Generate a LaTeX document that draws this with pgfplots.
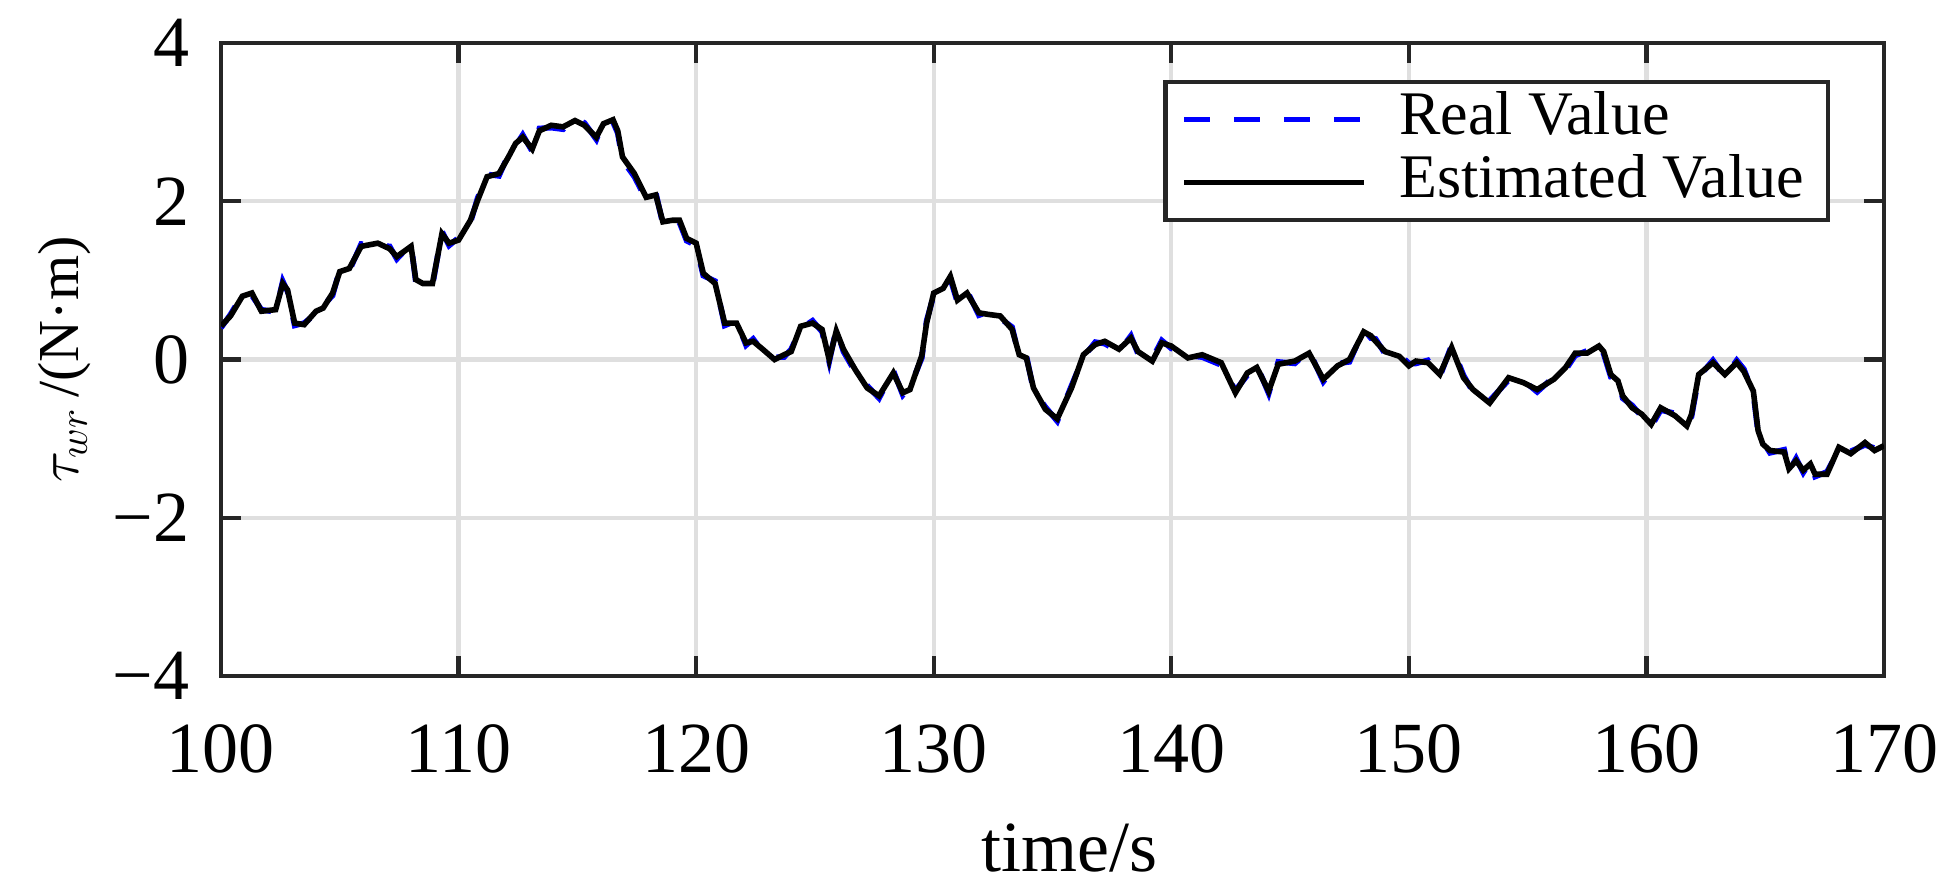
\documentclass[border=0pt]{standalone}
\usepackage{fontspec}
\setmainfont{Liberation Serif}
\usepackage{pgfplots}
\usepackage{pgfplotstable}
\pgfplotsset{compat=1.18}
\definecolor{axgray}{RGB}{38,38,38}
\definecolor{gridgray}{RGB}{223,223,223}
\pgfplotstableread{
t est real
100.0 0.42 0.40
100.4 0.55 0.57
100.9 0.80 0.82
101.3 0.84 0.81
101.7 0.61 0.63
102.3 0.63 0.60
102.6 0.96 0.99
102.8 0.88 0.86
103.1 0.46 0.43
103.5 0.44 0.46
104.0 0.61 0.58
104.3 0.65 0.68
104.7 0.84 0.81
105.0 1.11 1.14
105.4 1.15 1.12
105.9 1.43 1.46
106.6 1.47 1.44
107.1 1.40 1.43
107.4 1.30 1.27
108.0 1.43 1.46
108.2 1.01 0.98
108.5 0.96 0.99
108.9 0.96 0.93
109.3 1.59 1.62
109.6 1.47 1.44
110.0 1.51 1.54
110.5 1.76 1.73
110.8 2.01 2.04
111.2 2.31 2.34
111.7 2.35 2.32
112.1 2.56 2.59
112.4 2.73 2.70
112.7 2.81 2.84
113.1 2.66 2.63
113.4 2.89 2.92
113.9 2.96 2.93
114.4 2.94 2.91
114.9 3.02 3.05
115.3 2.96 2.99
115.8 2.81 2.78
116.1 2.98 3.01
116.5 3.03 3.00
116.7 2.89 2.86
116.9 2.56 2.52
117.4 2.35 2.31
117.9 2.05 2.02
118.3 2.08 2.11
118.6 1.74 1.71
119.0 1.76 1.79
119.3 1.76 1.73
119.6 1.53 1.50
120.0 1.47 1.44
120.3 1.09 1.06
120.8 0.96 0.99
121.2 0.46 0.43
121.7 0.46 0.49
122.1 0.21 0.18
122.4 0.23 0.26
122.8 0.13 0.10
123.3 0.00 0.03
123.7 0.06 0.03
124.0 0.10 0.13
124.4 0.42 0.39
124.9 0.46 0.49
125.3 0.38 0.35
125.6 0.00 -0.03
125.9 0.36 0.39
126.2 0.13 0.10
126.7 -0.13 -0.16
127.2 -0.36 -0.33
127.7 -0.46 -0.49
128.3 -0.17 -0.14
128.7 -0.42 -0.45
129.0 -0.38 -0.35
129.5 0.05 0.02
129.7 0.46 0.49
130.0 0.84 0.81
130.4 0.90 0.93
130.7 1.05 1.02
131.0 0.75 0.72
131.4 0.84 0.87
131.9 0.59 0.56
132.3 0.57 0.60
132.8 0.55 0.52
133.3 0.38 0.41
133.6 0.06 0.03
133.9 0.02 0.05
134.2 -0.36 -0.39
134.7 -0.63 -0.60
135.2 -0.75 -0.78
135.8 -0.36 -0.33
136.3 0.06 0.03
136.8 0.19 0.22
137.2 0.23 0.20
137.8 0.13 0.10
138.3 0.27 0.30
138.6 0.10 0.07
139.2 -0.02 0.01
139.6 0.21 0.24
140.0 0.17 0.14
140.7 0.02 0.05
141.3 0.06 0.03
142.1 -0.04 -0.07
142.7 -0.42 -0.39
143.2 -0.17 -0.20
143.6 -0.10 -0.07
144.1 -0.40 -0.43
144.5 -0.06 -0.03
145.2 -0.02 -0.05
145.8 0.08 0.11
146.4 -0.25 -0.28
147.0 -0.08 -0.05
147.5 0.00 -0.03
148.1 0.35 0.38
148.4 0.30 0.27
148.6 0.23 0.26
149.0 0.10 0.07
149.6 0.04 0.07
150.0 -0.08 -0.05
150.3 -0.02 -0.05
150.8 -0.04 -0.01
151.3 -0.19 -0.22
151.8 0.15 0.18
152.3 -0.23 -0.20
152.7 -0.38 -0.41
153.4 -0.55 -0.52
154.2 -0.23 -0.26
154.8 -0.29 -0.26
155.4 -0.38 -0.41
156.1 -0.25 -0.22
156.6 -0.10 -0.13
157.0 0.08 0.05
157.5 0.08 0.11
158.0 0.17 0.20
158.2 0.10 0.07
158.5 -0.19 -0.22
158.8 -0.27 -0.24
159.0 -0.46 -0.49
159.4 -0.61 -0.58
159.8 -0.69 -0.72
160.2 -0.82 -0.85
160.6 -0.61 -0.64
161.2 -0.71 -0.68
161.7 -0.84 -0.81
161.9 -0.69 -0.72
162.2 -0.19 -0.22
162.8 -0.04 -0.01
163.3 -0.19 -0.22
163.8 -0.04 -0.01
164.1 -0.15 -0.12
164.5 -0.40 -0.43
164.7 -0.90 -0.93
164.9 -1.07 -1.04
165.2 -1.15 -1.18
165.8 -1.17 -1.14
166.0 -1.38 -1.41
166.3 -1.28 -1.25
166.6 -1.40 -1.43
166.9 -1.32 -1.29
167.1 -1.45 -1.48
167.6 -1.45 -1.42
168.1 -1.11 -1.14
168.6 -1.19 -1.16
169.2 -1.05 -1.08
169.6 -1.15 -1.12
170.0 -1.09 -1.12
}\datatable
\begin{document}
\begin{tikzpicture}
\begin{axis}[
  name=ax,
  scale only axis,
  width=415.75pt, height=158.25pt,
  xmin=100, xmax=170, ymin=-4, ymax=4,
  xtick={100,110,...,170},
  ytick={-4,-2,0,2,4},
  yticklabels={−4,−2,0,2,4},
  /pgf/number format/assume math mode=true,
  /pgf/number format/1000 sep={},
  tick align=inside,
  major tick length=5pt,
  every tick/.style={axgray, line width=1.1pt},
  axis line style={axgray, line width=1.2pt},
  grid=major,
  major grid style={gridgray, line width=1.1pt},
  ticklabel style={font=\fontsize{18}{20}\selectfont, inner sep=0pt},
  xticklabel style={anchor=north, yshift=-12pt},
  yticklabel style={anchor=east, xshift=-7.75pt},
  xlabel={time/s},
  xlabel style={font=\fontsize{18}{20}\selectfont, at={(axis description cs:0.51,-0.232)}, anchor=north, inner sep=0pt},
  ylabel={$\tau_{wr}$\,/(N·m)},
  ylabel style={font=\fontsize{14.5}{16}\selectfont, at={(axis description cs:-0.078,0.5)}, anchor=south, inner sep=0pt},
  legend style={at={(axis description cs:0.9675,0.9415)}, anchor=north east,
    draw=axgray, line width=1.1pt, fill=white,
    font=\fontsize{15.5}{16}\selectfont,
    inner xsep=4pt, inner ysep=1.5pt,
    nodes={text height=11pt, text depth=3.5pt, inner ysep=0.6pt},
    cells={anchor=west},
    /tikz/every odd column/.append style={column sep=6pt}},
  legend image code/.code={\draw[#1] (0pt,0pt) -- (45pt,0pt);},
]
\addplot[blue, line width=1.4pt, dash pattern=on 6.5pt off 6pt] table[x=t, y=real] {\datatable};
\addlegendentry{Real Value}
\addplot[black, line width=1.4pt] table[x=t, y=est] {\datatable};
\addlegendentry{Estimated Value}
\end{axis}
\pgfresetboundingbox
\path[use as bounding box] ([shift={(-55.25pt,-51.5pt)}]ax.south west) rectangle ([shift={(16.75pt,10.75pt)}]ax.north east);
\end{tikzpicture}
\end{document}
